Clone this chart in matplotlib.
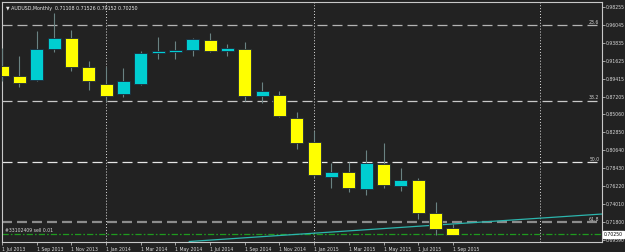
import matplotlib
matplotlib.use('Agg')
from matplotlib import pyplot as plt
from matplotlib.patches import Rectangle

# monthly AUDUSD candles, Jul 2013 .. Sep 2015
opens = [0.9100, 0.8976, 0.8927, 0.9309, 0.9444, 0.9087, 0.8878, 0.8755, 0.8878,
         0.9260, 0.9272, 0.9296, 0.9420, 0.9284, 0.9309, 0.8730, 0.8743, 0.8460,
         0.8164, 0.7734, 0.7795, 0.7586, 0.7894, 0.7623, 0.7697, 0.7291, 0.71108]
highs = [0.9317, 0.9223, 0.9530, 0.9752, 0.9543, 0.9161, 0.9087, 0.9075, 0.9284,
         0.9456, 0.9407, 0.9444, 0.9506, 0.9370, 0.9395, 0.8903, 0.8792, 0.8533,
         0.8300, 0.7906, 0.7918, 0.8066, 0.8152, 0.7844, 0.7721, 0.7426, 0.71526]
lows = [0.8916, 0.8841, 0.8915, 0.9272, 0.9038, 0.8804, 0.8669, 0.8718, 0.8870,
        0.9186, 0.9186, 0.9223, 0.9272, 0.9223, 0.8669, 0.8644, 0.8472, 0.8078,
        0.7734, 0.7598, 0.7549, 0.7512, 0.7598, 0.7561, 0.7217, 0.7021, 0.70152]
closes = [0.8976, 0.8890, 0.9309, 0.9444, 0.9087, 0.8915, 0.8730, 0.8915, 0.9260,
          0.9284, 0.9296, 0.9432, 0.9284, 0.9321, 0.8730, 0.8792, 0.8484, 0.8152,
          0.7758, 0.7795, 0.7598, 0.7906, 0.7635, 0.7697, 0.7291, 0.7094, 0.70250]

x_labels = ['1 Jul 2013', '1 Sep 2013', '1 Nov 2013', '1 Jan 2014', '1 Mar 2014',
            '1 May 2014', '1 Jul 2014', '1 Sep 2014', '1 Nov 2014', '1 Jan 2015',
            '1 Mar 2015', '1 May 2015', '1 Jul 2015', '1 Sep 2015']
y_ticks = [0.98255, 0.96045, 0.93835, 0.91625, 0.89415, 0.87205, 0.85060, 0.82850,
           0.80640, 0.78430, 0.76220, 0.74010, 0.71800, 0.69590]

fib_names = ['23.6', '38.2', '50.0', '61.8']
fib_prices = [0.9604, 0.8669, 0.7918, 0.7180]
separators = [6, 18, 31]  # year separators (month index)
order_price = 0.7032
order_text = '#33102409 sell 0.01'
trend_x = [10.8, 34.6]
trend_y = [0.6940, 0.7278]
last_price = 0.70250

bg = '#222222'
fig = plt.figure(figsize=(6.25, 2.52), dpi=100, facecolor=bg)
ax = fig.add_axes([2 / 625, 10 / 252, 600 / 625, 240 / 252], facecolor=bg)
plt.rcParams['lines.scale_dashes'] = False

n = len(opens)
xs = list(range(n))

# year separators
for s in separators:
    ax.axvline(s, color='#e0e0e0', lw=0.7, linestyle=(0, (0.7, 1.4)), zorder=1)

# fibo levels
fib_cols = ['#b4b4b4', '#c8c8c8', '#e6e6e6', '#8c8c8c']
fib_lw = [0.9, 0.9, 0.9, 1.6]
for name, p, c, w in zip(fib_names, fib_prices, fib_cols, fib_lw):
    ax.axhline(p, color=c, lw=w, linestyle=(0, (7.2, 3.6)), zorder=1)
    ax.text(34.45, p + 0.0006, name, color='#d0d0d0', fontsize=3.3,
            ha='right', va='bottom', zorder=5)

# order line
ax.axhline(order_price, color='#1f9a1f', lw=0.9,
           linestyle=(0, (4.5, 1.5, 1.2, 1.5)), zorder=1)
ax.text(0.2, order_price + 0.0007, order_text, color='#d8d8d8', fontsize=3.3,
        ha='left', va='bottom', zorder=5)

# trend line
ax.plot(trend_x, trend_y, color='#2cb5ad', lw=0.9, zorder=2)

# candles
w = 0.75
for i in xs:
    o, h, l, c = opens[i], highs[i], lows[i], closes[i]
    ax.vlines(i, l, h, color='#6a8282', lw=0.8, zorder=3)
    col = '#00ced1' if c >= o else '#ffff00'
    lo = min(o, c)
    hgt = max(abs(c - o), 0.0012)
    ax.add_patch(Rectangle((i - w / 2, lo), w, hgt, facecolor=col,
                           edgecolor='#1e2a3c', lw=0.6, zorder=4))

ax.set_xlim(0, 34.6)
ax.set_ylim(0.69338, 0.98870)

ax.set_xticks(xs[::2])
ax.set_xticklabels(x_labels, ha='left')
ax.yaxis.tick_right()
ax.set_yticks(y_ticks)
ax.set_yticklabels([f'{v:.5f}' for v in y_ticks])
ax.tick_params(axis='both', colors='#d8d8d8', labelsize=3.3, length=2, width=0.5, pad=1)
ax.tick_params(axis='x', pad=1.5)

for sp in ax.spines.values():
    sp.set_color('#c8c8c8')
    sp.set_linewidth(0.8)

# current price box
ax.text(1.003, (last_price - 0.69338) / (0.98870 - 0.69338), f'{last_price:.5f}',
        transform=ax.transAxes, fontsize=3.3, color='black', ha='left', va='center',
        bbox=dict(boxstyle='square,pad=0.25', facecolor='white', edgecolor='white'),
        zorder=10, clip_on=False)

# header
ax.text(0.006, 0.985, '\u25bc AUDUSD,Monthly  0.71108 0.71526 0.70152 0.70250',
        transform=ax.transAxes, color='#e8e8e8', fontsize=3.4, ha='left', va='top', zorder=6)

fig.savefig('out.png', dpi=100, facecolor=bg)
